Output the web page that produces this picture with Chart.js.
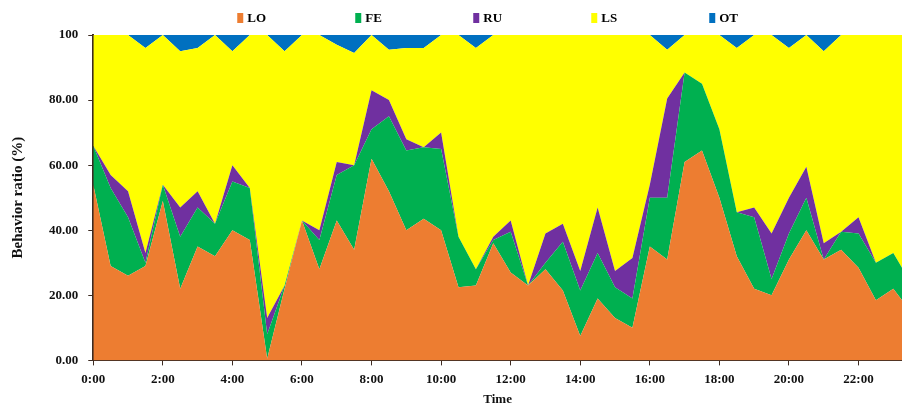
<!DOCTYPE html>
<html>
<head>
<meta charset="utf-8">
<script src="https://cdn.jsdelivr.net/npm/chart.js@4.4.1/dist/chart.umd.min.js"></script>
<style>
  html, body { margin: 0; padding: 0; background: #fff; }
  #wrap { width: 902px; height: 406px; position: relative; }
</style>
</head>
<body>
<div id="wrap"><canvas id="behaviorChart"></canvas></div>
<script>
// half-hour time slots
const times = ['0:00','0:30','1:00','1:30','2:00','2:30','3:00','3:30','4:00','4:30','5:00','5:30',
  '6:00','6:30','7:00','7:30','8:00','8:30','9:00','9:30','10:00','10:30','11:00','11:30',
  '12:00','12:30','13:00','13:30','14:00','14:30','15:00','15:30','16:00','16:30','17:00','17:30',
  '18:00','18:30','19:00','19:30','20:00','20:30','21:00','21:30','22:00','22:30','23:00','23:30'];

const LO = [54,29,26,29,49,22,35,32,40,37,0.5,22, 43,28,43,34,62,52,40,43.5,40,22.5,23,36,
  27,23,28,21.5,7.5,19,13,10,35,31,61,64.5, 50,32,22,20,31,40,31,34,28.5,18.5,22,15];
const FE = [12,24,18,1,5,16,12,10,15,16,7.5,1, 0,9,14,26,9,23,24.5,22,25,15.5,5,1,
  12.5,0,2,15,14,14,9.5,9,15,19,27.5,20.5, 21,13.5,22,5,8,10,0,5.5,10.5,11.5,11,9];
const RU = [0,4,8,3,0,9,5,0,5,0,5,0, 0,3,4,0,12,5,3.5,0,5,0,0,1,
  3.5,0,9,5.5,6,14,5,12.5,4,30.5,0,0, 0,0,3,14,11,9.5,5,0,5,0,0,0];
const LS = [34,43,48,63,46,48,44,58,35,47,87,72, 57,60,36,34.5,17,15.5,28,30.5,30,62,68,62,
  57,77,61,58,72.5,53,72.5,68.5,46,15,11.5,15, 29,50.5,53,61,46,40.5,59,60.5,56,70,67,76];
const OT = [0,0,0,4,0,5,4,0,5,0,0,5, 0,0,3,5.5,0,4.5,4,4,0,0,4,0,
  0,0,0,0,0,0,0,0,0,4.5,0,0, 0,4,0,0,4,0,5,0,0,0,0,0];

const yTicks = [0, 20, 40, 60, 80, 100];

const toHours = (t) => {
  const [h, m] = t.split(':').map(Number);
  return h + m / 60;
};
const hours = times.map(toHours);
const pts = (arr) => arr.map((v, i) => ({ x: hours[i], y: v }));

const series = [
  { label: 'LO', data: LO, color: '#ED7D31' },
  { label: 'FE', data: FE, color: '#00B050' },
  { label: 'RU', data: RU, color: '#7030A0' },
  { label: 'LS', data: LS, color: '#FFFF00' },
  { label: 'OT', data: OT, color: '#0070C0' },
];

const axisColor = '#3d2b22';
const serif = '"Liberation Serif", "DejaVu Serif", serif';

// simple legend drawn above the plot, spread out like the original
const spreadLegend = {
  id: 'spreadLegend',
  afterDraw(chart) {
    const { ctx, chartArea } = chart;
    const x0 = chartArea.left + 144;
    const step = 118;
    const y = 18;
    ctx.save();
    ctx.font = 'bold 13px ' + serif;
    ctx.textBaseline = 'middle';
    chart.data.datasets.forEach((ds, i) => {
      const x = x0 + i * step;
      ctx.fillStyle = ds.backgroundColor;
      ctx.fillRect(x, y - 5, 6, 10);
      ctx.fillStyle = '#000';
      ctx.fillText(ds.label, x + 10, y + 1);
    });
    ctx.restore();
  }
};

new Chart(document.getElementById('behaviorChart'), {
  type: 'line',
  data: {
    datasets: series.map((s, i) => ({
      label: s.label,
      data: pts(s.data),
      backgroundColor: s.color,
      borderColor: s.color,
      borderWidth: 0,
      pointRadius: 0,
      tension: 0,
      fill: i === 0 ? 'origin' : '-1',
    }))
  },
  options: {
    responsive: true,
    maintainAspectRatio: false,
    animation: false,
    layout: { padding: { top: 35, right: 0, left: 9, bottom: 0 } },
    plugins: {
      legend: { display: false },
      tooltip: { enabled: false },
    },
    scales: {
      x: {
        type: 'linear',
        min: 0,
        max: 23.25,
        border: { color: axisColor, width: 2 },
        grid: { drawOnChartArea: false, drawTicks: true, tickLength: 5, color: axisColor },
        ticks: {
          stepSize: 2,
          includeBounds: false,
          color: '#111',
          font: { family: serif, size: 13, weight: 'bold' },
          padding: 6,
          maxRotation: 0,
          callback: (v) => v + ':00',
        },
        title: {
          display: true,
          text: 'Time',
          color: '#111',
          font: { family: serif, size: 13, weight: 'bold', lineHeight: 1 },
          padding: { top: 0, bottom: 0 },
        },
      },
      y: {
        stacked: true,
        min: 0,
        max: 100,
        afterBuildTicks: (axis) => { axis.ticks = yTicks.map(v => ({ value: v })); },
        border: { color: axisColor, width: 2 },
        grid: { drawOnChartArea: false, drawTicks: true, tickLength: 5, color: axisColor },
        ticks: {
          color: '#111',
          font: { family: serif, size: 13, weight: 'bold' },
          padding: 10,
          callback: (v) => v === 100 ? '100' : v.toFixed(2),
        },
        title: {
          display: true,
          text: 'Behavior ratio (%)',
          color: '#111',
          font: { family: serif, size: 15, weight: 'bold' },
          padding: { top: 0, bottom: 12 },
        },
      },
    },
  },
  plugins: [spreadLegend],
});
</script>
</body>
</html>
